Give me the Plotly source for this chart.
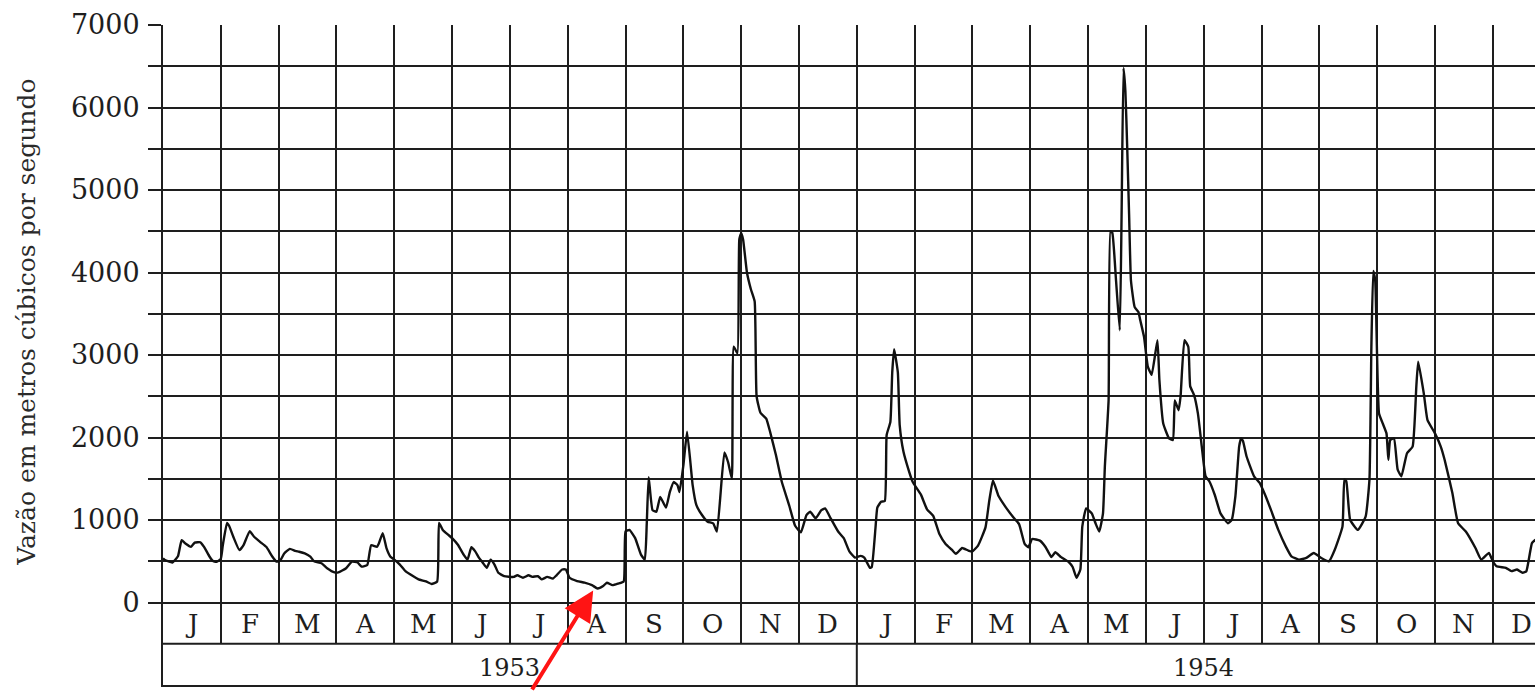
import calendar
import pandas as pd
import plotly.graph_objects as go

# Daily discharge readings (m³/s), 1953-1954
dates_1953 = [
    "1953-01-01", "1953-01-02", "1953-01-06", "1953-01-09", "1953-01-11", "1953-01-13", "1953-01-16",
    "1953-01-18", "1953-01-21", "1953-01-23", "1953-01-26", "1953-01-28", "1953-01-30",
    "1953-02-01", "1953-02-02", "1953-02-04", "1953-02-05", "1953-02-07", "1953-02-10", "1953-02-12",
    "1953-02-15", "1953-02-17", "1953-02-20", "1953-02-23", "1953-02-26", "1953-02-28",
    "1953-03-02", "1953-03-04", "1953-03-07", "1953-03-10", "1953-03-12", "1953-03-15", "1953-03-18",
    "1953-03-20", "1953-03-24", "1953-03-27", "1953-03-31",
    "1953-04-02", "1953-04-06", "1953-04-09", "1953-04-12", "1953-04-14", "1953-04-17", "1953-04-19",
    "1953-04-22", "1953-04-23", "1953-04-25", "1953-04-27", "1953-04-29",
    "1953-05-01", "1953-05-04", "1953-05-07", "1953-05-11", "1953-05-14", "1953-05-18", "1953-05-21",
    "1953-05-24", "1953-05-25", "1953-05-27", "1953-05-30",
    "1953-06-01", "1953-06-04", "1953-06-07", "1953-06-09", "1953-06-11", "1953-06-13", "1953-06-15",
    "1953-06-17", "1953-06-19", "1953-06-21", "1953-06-23", "1953-06-25", "1953-06-28",
    "1953-07-03", "1953-07-05", "1953-07-08", "1953-07-11", "1953-07-13", "1953-07-16", "1953-07-18",
    "1953-07-21", "1953-07-24", "1953-07-26", "1953-07-29", "1953-07-31",
    "1953-08-02", "1953-08-06", "1953-08-10", "1953-08-14", "1953-08-17", "1953-08-20", "1953-08-22",
    "1953-08-25", "1953-08-28", "1953-08-31",
    "1953-09-01", "1953-09-03", "1953-09-06", "1953-09-09", "1953-09-11", "1953-09-12", "1953-09-13",
    "1953-09-15", "1953-09-17", "1953-09-19", "1953-09-22", "1953-09-24", "1953-09-26", "1953-09-28",
    "1953-09-29",
    "1953-10-01", "1953-10-03", "1953-10-06", "1953-10-08", "1953-10-11", "1953-10-14", "1953-10-17",
    "1953-10-19", "1953-10-23", "1953-10-25", "1953-10-27", "1953-10-28", "1953-10-30", "1953-10-31",
    "1953-11-01", "1953-11-02", "1953-11-04", "1953-11-06", "1953-11-08", "1953-11-09", "1953-11-11",
    "1953-11-14", "1953-11-16", "1953-11-19", "1953-11-22", "1953-11-26", "1953-11-29",
    "1953-12-02", "1953-12-05", "1953-12-07", "1953-12-10", "1953-12-13", "1953-12-15", "1953-12-18",
    "1953-12-22", "1953-12-25", "1953-12-28", "1953-12-31",
]
flow_1953 = [
    535, 515, 485, 560, 755, 715, 675, 725, 730, 675, 555, 500, 495,
    530, 700, 965, 930, 800, 635, 695, 865, 800, 735, 675, 555, 495,
    515, 595, 650, 625, 615, 595, 555, 500, 475, 415, 365,
    365, 415, 495, 485, 435, 455, 695, 675, 715, 840, 655, 555,
    520, 460, 380, 320, 280, 255, 225, 255, 965, 880, 820,
    780, 700, 580, 520, 670, 620, 540, 480, 420, 520, 460, 360, 320,
    310, 330, 300, 330, 310, 320, 280, 310, 290, 330, 400, 400,
    300, 260, 240, 210, 170, 200, 240, 210, 230, 255,
    860, 880, 780, 580, 520, 950, 1520, 1120, 1100, 1280, 1150, 1340, 1460, 1420, 1340,
    1660, 2070, 1420, 1180, 1060, 980, 960, 860, 1820, 1700, 1500, 3100, 3020, 4400,
    4480, 4400, 4000, 3800, 3650, 2500, 2300, 2230, 2070, 1790, 1470, 1170, 930,
    850, 1060, 1100, 1020, 1120, 1140, 1020, 860, 780, 620, 545,
]

dates_1954 = [
    "1954-01-03", "1954-01-05", "1954-01-08", "1954-01-09", "1954-01-11", "1954-01-12", "1954-01-14",
    "1954-01-16", "1954-01-17", "1954-01-19", "1954-01-20", "1954-01-21", "1954-01-23", "1954-01-24",
    "1954-01-26", "1954-01-29", "1954-01-31",
    "1954-02-04", "1954-02-07", "1954-02-10", "1954-02-13", "1954-02-16", "1954-02-19", "1954-02-21",
    "1954-02-24", "1954-02-27",
    "1954-03-01", "1954-03-04", "1954-03-08", "1954-03-10", "1954-03-12", "1954-03-15", "1954-03-19",
    "1954-03-23", "1954-03-26", "1954-03-29", "1954-03-31",
    "1954-04-02", "1954-04-06", "1954-04-09", "1954-04-12", "1954-04-14", "1954-04-17", "1954-04-21",
    "1954-04-23", "1954-04-25", "1954-04-27", "1954-04-28", "1954-04-30",
    "1954-05-03", "1954-05-05", "1954-05-07", "1954-05-09", "1954-05-10", "1954-05-12", "1954-05-13",
    "1954-05-14", "1954-05-16", "1954-05-18", "1954-05-19", "1954-05-20", "1954-05-21", "1954-05-22",
    "1954-05-23", "1954-05-24", "1954-05-26", "1954-05-28", "1954-05-29", "1954-05-31",
    "1954-06-02", "1954-06-04", "1954-06-07", "1954-06-08", "1954-06-10", "1954-06-13", "1954-06-15",
    "1954-06-16", "1954-06-18", "1954-06-19", "1954-06-21", "1954-06-23", "1954-06-24", "1954-06-26",
    "1954-06-28", "1954-06-30",
    "1954-07-02", "1954-07-04", "1954-07-07", "1954-07-10", "1954-07-14", "1954-07-16", "1954-07-18",
    "1954-07-20", "1954-07-21", "1954-07-22", "1954-07-24", "1954-07-28", "1954-07-31",
    "1954-08-03", "1954-08-06", "1954-08-10", "1954-08-14", "1954-08-17", "1954-08-21", "1954-08-25",
    "1954-08-29",
    "1954-09-02", "1954-09-06", "1954-09-09", "1954-09-13", "1954-09-14", "1954-09-15", "1954-09-17",
    "1954-09-21", "1954-09-25", "1954-09-27", "1954-09-28", "1954-09-29", "1954-09-30",
    "1954-10-02", "1954-10-04", "1954-10-06", "1954-10-07", "1954-10-08", "1954-10-10", "1954-10-12",
    "1954-10-14", "1954-10-17", "1954-10-20", "1954-10-22", "1954-10-23", "1954-10-26", "1954-10-28",
    "1954-11-01", "1954-11-04", "1954-11-06", "1954-11-10", "1954-11-13", "1954-11-17", "1954-11-22",
    "1954-11-25", "1954-11-29",
    "1954-12-01", "1954-12-03", "1954-12-08", "1954-12-11", "1954-12-14", "1954-12-17", "1954-12-19",
    "1954-12-22", "1954-12-24", "1954-12-27",
]
flow_1954 = [
    565, 545, 420, 430, 900, 1150, 1220, 1230, 2030, 2190, 2790, 3070, 2790, 2150, 1830, 1590, 1460,
    1310, 1130, 1050, 830, 710, 640, 590, 660, 630,
    620, 690, 910, 1230, 1480, 1290, 1150, 1030, 950, 710, 670,
    770, 750, 670, 550, 610, 550, 490, 430, 300, 400, 920, 1140,
    1080, 960, 860, 1080, 1650, 2450, 4500, 4480, 3900, 3300, 4750, 6480, 6200, 5500, 4700, 3900,
    3580, 3520, 3420, 3220,
    2860, 2760, 3180, 2700, 2170, 1990, 1970, 2450, 2330, 2500, 3180, 3100, 2620, 2515, 2290, 1890,
    1530, 1470, 1300, 1080, 960, 1000, 1290, 1890, 1990, 1960, 1770, 1530, 1450,
    1300, 1125, 880, 680, 560, 520, 540, 600,
    540, 500, 640, 920, 1490, 1470, 1000, 880, 1040, 1490, 3100, 4020, 3900,
    2290, 2170, 2050, 1730, 1970, 1990, 1610, 1530, 1810, 1890, 2620, 2920, 2535, 2210,
    2050, 1890, 1730, 1330, 960, 860, 660, 520, 600,
    500, 440, 420, 380, 400, 360, 380, 720, 760, 680,
]

month_letters = ["J", "F", "M", "A", "M", "J", "J", "A", "S", "O", "N", "D"]
years = [1953, 1954]
y_ticks = list(range(0, 7001, 500))

INK = "#1e1e1e"
FONT = "DejaVu Serif"

# Each month occupies one unit on the horizontal scale
d = pd.to_datetime(dates_1953 + dates_1954)
month_pos = [
    (t.year - years[0]) * 12 + (t.month - 1) + (t.day - 1) / calendar.monthrange(t.year, t.month)[1]
    for t in d
]
flow = flow_1953 + flow_1954

x_end = 23.73

fig = go.Figure()
fig.add_trace(go.Scatter(
    x=month_pos, y=flow, mode="lines",
    line=dict(color="#111111", width=2.4, shape="spline", smoothing=0.4),
    hoverinfo="skip", showlegend=False,
))

# Month band and year band beneath the graph
shapes = [
    dict(type="rect", xref="x", yref="y", x0=0, x1=x_end, y0=-1000, y1=-500,
         fillcolor="white", line=dict(width=0), layer="between"),
    dict(type="line", xref="x", yref="y", x0=0, x1=x_end, y0=-500, y1=-500,
         line=dict(color=INK, width=2)),
    dict(type="line", xref="x", yref="y", x0=12, x1=12, y0=-1000, y1=-500,
         line=dict(color=INK, width=2)),
]

annotations = []
for k in range(int(x_end) + 1):
    annotations.append(dict(
        x=k + 0.5, y=-265, xref="x", yref="y", text=month_letters[k % 12],
        showarrow=False, font=dict(family=FONT, size=26, color=INK),
    ))
for i, yr in enumerate(years):
    annotations.append(dict(
        x=i * 12 + 6, y=-790, xref="x", yref="y", text=str(yr),
        showarrow=False, font=dict(family=FONT, size=24, color=INK),
    ))

annotations.append(dict(
    x=-0.1, y=3400, xref="paper", yref="y", xanchor="center", yanchor="middle",
    text="Vazão em metros cúbicos por segundo",
    textangle=-90, showarrow=False, font=dict(family=FONT, size=25, color="#2a2a2a"),
))

# Red pointer to the August 1953 low flow
annotations.append(dict(
    x=7.44, y=145, xref="x", yref="y", text="", showarrow=True,
    ax=-62, ay=111, arrowcolor="#ff1414", arrowwidth=4, arrowhead=2, arrowsize=1.5,
))

fig.update_layout(
    width=1535, height=691,
    margin=dict(l=163, r=0, t=25, b=6),
    paper_bgcolor="white", plot_bgcolor="white",
    shapes=shapes, annotations=annotations,
    xaxis=dict(
        range=[0, x_end], tick0=0, dtick=1, showgrid=True, gridcolor=INK, gridwidth=2,
        showticklabels=False, ticks="", zeroline=False,
        showline=True, linecolor=INK, linewidth=2, mirror=False,
    ),
    yaxis=dict(
        range=[-1000, 7000], tickvals=y_ticks,
        ticktext=[str(v) if v % 1000 == 0 else "" for v in y_ticks],
        showgrid=True, gridcolor=INK, gridwidth=2, zeroline=False,
        ticks="outside", ticklen=13, tickwidth=2, tickcolor=INK,
        ticklabelstandoff=3,
        tickfont=dict(family=FONT, size=27, color=INK),
        showline=True, linecolor=INK, linewidth=2,
    ),
)

fig.write_html("out.html")
